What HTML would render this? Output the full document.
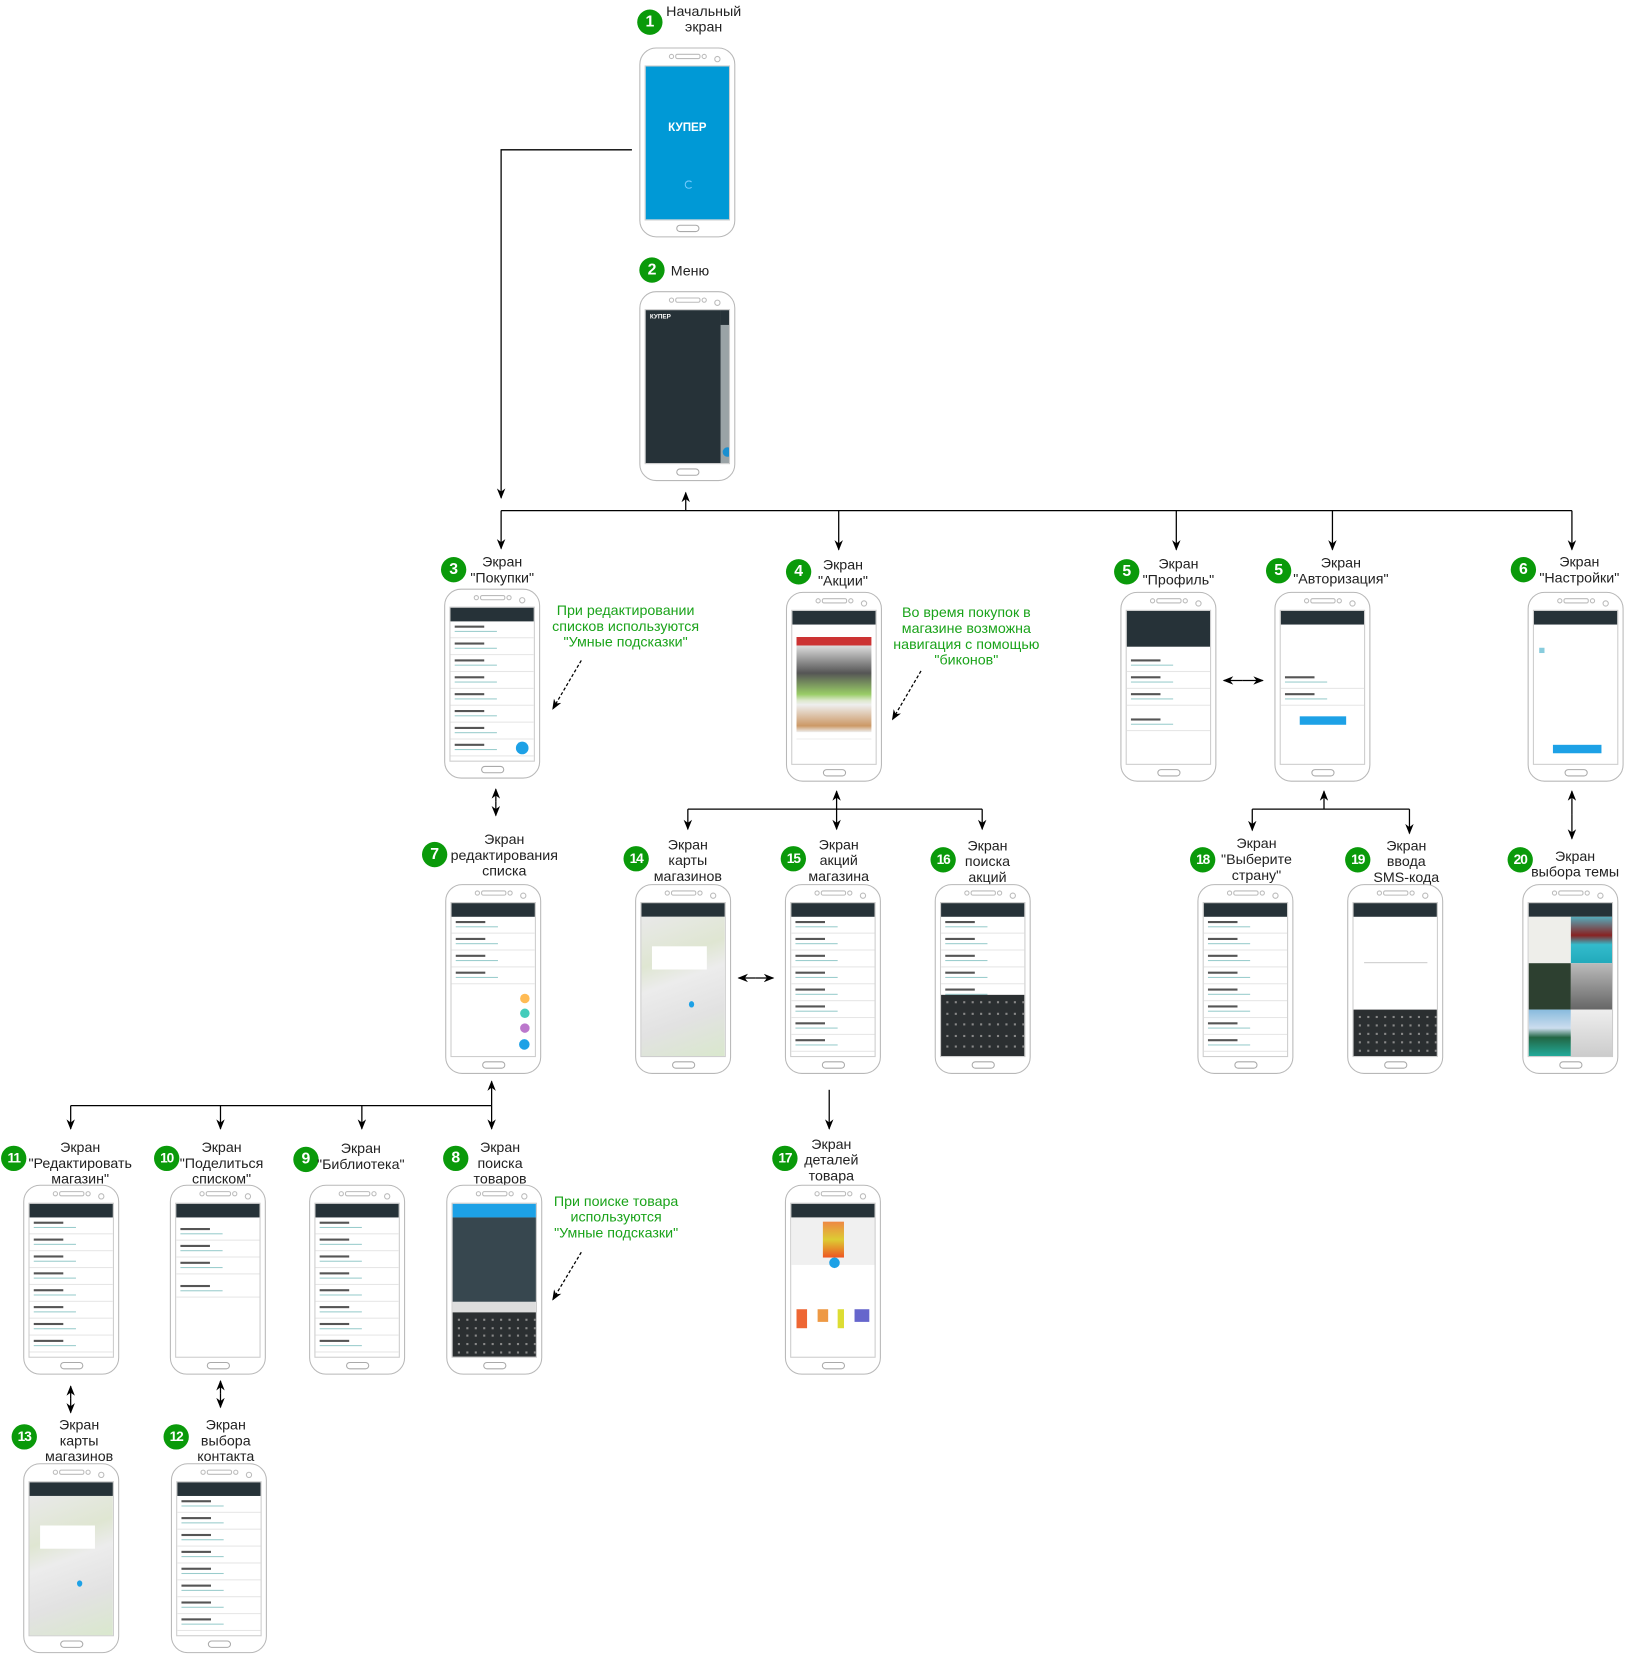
<!DOCTYPE html>
<html><head><meta charset="utf-8">
<style>
html,body{margin:0;padding:0;background:#fff;}
body{width:1631px;height:1654px;overflow:hidden;position:relative;}
#c{position:absolute;left:0;top:0;width:1546px;height:1568px;transform:scale(1.05498);transform-origin:0 0;font-family:"Liberation Sans","DejaVu Sans",sans-serif;}
.ph{position:absolute;width:89px;height:178px;border:1px solid #b8b8b8;border-radius:16px;background:#fff;box-sizing:content-box;}
.ph .sp{position:absolute;left:33px;top:5px;width:22px;height:3px;border:1px solid #bbb;border-radius:2px;}
.ph .d1{position:absolute;left:27px;top:5px;width:3px;height:3px;border:1px solid #bbb;border-radius:50%;}
.ph .d2{position:absolute;left:58px;top:5px;width:3px;height:3px;border:1px solid #bbb;border-radius:50%;}
.ph .d3{position:absolute;left:70px;top:7px;width:4px;height:4px;border:1px solid #bbb;border-radius:50%;}
.ph .hb{position:absolute;left:34px;top:167px;width:20px;height:5px;border:1px solid #aaa;border-radius:4px;}
.ph .sc{position:absolute;left:4px;top:16px;width:81px;height:147px;overflow:hidden;background:#fff;border:1px solid #ccc;box-sizing:border-box;}
.hd{height:13px;background:#263238;}
.row{height:15px;border-bottom:1px solid #e6e6e6;position:relative;}
.row:before{content:"";position:absolute;left:4px;top:4px;width:28px;height:2px;background:#555;}
.row:after{content:"";position:absolute;left:4px;top:9px;width:40px;height:1px;background:#9cc;}
.kb{position:absolute;left:0;bottom:0;width:100%;background:#2b2f31;}
.kb i{position:absolute;width:2px;height:2px;background:#888;}
.n{position:absolute;width:24px;height:24px;border-radius:50%;background:#0a9a0a;color:#fff;font-weight:bold;font-size:15px;line-height:24px;text-align:center;}
.n.s{font-size:13px;letter-spacing:-1px;}
.t{position:absolute;font-size:13.5px;line-height:15px;text-align:center;color:#222;white-space:nowrap;transform:translateX(-50%);}
.g{position:absolute;font-size:13.5px;line-height:15px;text-align:center;color:#1aa31a;white-space:nowrap;transform:translateX(-50%);}
svg{position:absolute;left:0;top:0;}
</style></head><body><div id="c">
<svg width="1546" height="1568" viewBox="0 0 1546 1568">
<defs><marker id="a" markerWidth="10" markerHeight="10" refX="9" refY="5" orient="auto" markerUnits="userSpaceOnUse"><path d="M0,1 L10,5 L0,9 L3,5 z" fill="#000"/></marker></defs>
<g stroke="#000" stroke-width="1.2" fill="none">
<path d="M599,142 H475 V472" marker-end="url(#a)"/>
<path d="M475,484 H1490"/>
<path d="M650,484 V467" marker-end="url(#a)"/>
<path d="M475,484 V520" marker-end="url(#a)"/>
<path d="M795,484 V521" marker-end="url(#a)"/>
<path d="M1115,484 V521" marker-end="url(#a)"/>
<path d="M1263,484 V521" marker-end="url(#a)"/>
<path d="M1490,484 V521" marker-end="url(#a)"/>
<path d="M470,760 V748" marker-end="url(#a)"/><path d="M470,760 V773" marker-end="url(#a)"/>
<path d="M652,767 H931"/>
<path d="M652,767 V786" marker-end="url(#a)"/><path d="M931,767 V786" marker-end="url(#a)"/>
<path d="M793,767 V750" marker-end="url(#a)"/><path d="M793,767 V786" marker-end="url(#a)"/>
<path d="M1178,645 H1160" marker-end="url(#a)"/><path d="M1178,645 H1197" marker-end="url(#a)"/>
<path d="M1187,767 H1336"/>
<path d="M1255,767 V750" marker-end="url(#a)"/>
<path d="M1187,767 V787" marker-end="url(#a)"/><path d="M1336,767 V790" marker-end="url(#a)"/>
<path d="M1490,772 V750" marker-end="url(#a)"/><path d="M1490,772 V795" marker-end="url(#a)"/>
<path d="M716,927 H700" marker-end="url(#a)"/><path d="M716,927 H733" marker-end="url(#a)"/>
<path d="M67,1048 H466"/>
<path d="M466,1048 V1025" marker-end="url(#a)"/>
<path d="M67,1048 V1070" marker-end="url(#a)"/><path d="M209,1048 V1070" marker-end="url(#a)"/>
<path d="M343,1048 V1070" marker-end="url(#a)"/><path d="M466,1048 V1070" marker-end="url(#a)"/>
<path d="M786,1033 V1070" marker-end="url(#a)"/>
<path d="M67,1326 V1314" marker-end="url(#a)"/><path d="M67,1326 V1339" marker-end="url(#a)"/>
<path d="M209,1321 V1309" marker-end="url(#a)"/><path d="M209,1321 V1334" marker-end="url(#a)"/>
<path d="M551,626 L524,672" stroke-dasharray="3,2" marker-end="url(#a)"/>
<path d="M873,636 L846,682" stroke-dasharray="3,2" marker-end="url(#a)"/>
<path d="M551,1187 L524,1232" stroke-dasharray="3,2" marker-end="url(#a)"/>
</g></svg>

<div class="n" style="left:604px;top:9px">1</div><div class="t" style="left:667px;top:3px">Начальный<br>экран</div>
<div class="n" style="left:606px;top:244px">2</div><div class="t" style="left:654px;top:249px">Меню</div>
<div class="n" style="left:418px;top:528px">3</div><div class="t" style="left:476px;top:525px">Экран<br>"Покупки"</div>
<div class="n" style="left:745px;top:530px">4</div><div class="t" style="left:799px;top:528px">Экран<br>"Акции"</div>
<div class="n" style="left:1056px;top:530px">5</div><div class="t" style="left:1117px;top:527px">Экран<br>"Профиль"</div>
<div class="n" style="left:1200px;top:529px">5</div><div class="t" style="left:1271px;top:526px">Экран<br>"Авторизация"</div>
<div class="n" style="left:1432px;top:528px">6</div><div class="t" style="left:1497px;top:525px">Экран<br>"Настройки"</div>
<div class="n" style="left:400px;top:798px">7</div><div class="t" style="left:478px;top:788px">Экран<br>редактирования<br>списка</div>
<div class="n s" style="left:591px;top:802px">14</div><div class="t" style="left:652px;top:793px">Экран<br>карты<br>магазинов</div>
<div class="n s" style="left:740px;top:802px">15</div><div class="t" style="left:795px;top:793px">Экран<br>акций<br>магазина</div>
<div class="n s" style="left:882px;top:803px">16</div><div class="t" style="left:936px;top:794px">Экран<br>поиска<br>акций</div>
<div class="n s" style="left:1128px;top:803px">18</div><div class="t" style="left:1191px;top:792px">Экран<br>"Выберите<br>страну"</div>
<div class="n s" style="left:1275px;top:803px">19</div><div class="t" style="left:1333px;top:794px">Экран<br>ввода<br>SMS-кода</div>
<div class="n s" style="left:1429px;top:803px">20</div><div class="t" style="left:1493px;top:804px">Экран<br>выбора темы</div>
<div class="n s" style="left:1px;top:1086px">11</div><div class="t" style="left:76px;top:1080px">Экран<br>"Редактировать<br>магазин"</div>
<div class="n s" style="left:146px;top:1086px">10</div><div class="t" style="left:210px;top:1080px">Экран<br>"Поделиться<br>списком"</div>
<div class="n" style="left:278px;top:1087px">9</div><div class="t" style="left:342px;top:1081px">Экран<br>"Библиотека"</div>
<div class="n" style="left:420px;top:1086px">8</div><div class="t" style="left:474px;top:1080px">Экран<br>поиска<br>товаров</div>
<div class="n s" style="left:732px;top:1086px">17</div><div class="t" style="left:788px;top:1077px">Экран<br>деталей<br>товара</div>
<div class="n s" style="left:11px;top:1350px">13</div><div class="t" style="left:75px;top:1343px">Экран<br>карты<br>магазинов</div>
<div class="n s" style="left:155px;top:1350px">12</div><div class="t" style="left:214px;top:1343px">Экран<br>выбора<br>контакта</div>

<div class="g" style="left:593px;top:571px">При редактировании<br>списков используются<br>"Умные подсказки"</div>
<div class="g" style="left:916px;top:573px">Во время покупок в<br>магазине возможна<br>навигация с помощью<br>"биконов"</div>
<div class="g" style="left:584px;top:1131px">При поиске товара<br>используются<br>"Умные подсказки"</div>

<div id="phones"></div>
</div>
<script>
var P=[[606,45,'blue'],[606,276,'menu'],[421,558,'list'],[745,561,'promo'],[1062,561,'prof'],[1208,561,'auth'],[1448,561,'sett'],
[422,838,'edit'],[602,838,'map'],[744,838,'list2'],[886,838,'kbl'],[1135,838,'list2'],[1277,838,'sms'],[1443,838,'photo'],
[22,1123,'list2'],[161,1123,'share'],[293,1123,'list2'],[423,1123,'search'],[744,1123,'detail'],[22,1387,'map'],[162,1387,'list2']];
function kb(h){var s='<div class="kb" style="height:'+h+'px">';for(var r=0;r<5;r++)for(var c=0;c<10;c++)s+='<i style="left:'+(5+c*8)+'px;top:'+(6+r*h/5.5)+'px"></i>';return s+'</div>';}
function rows(n){var s='';for(var i=0;i<n;i++)s+='<div class="row"></div>';return s;}
function scr(t){
switch(t){
case 'blue':return '<div style="background:#0099d6;height:100%;position:relative"><div style="position:absolute;top:52px;width:100%;text-align:center;color:#fff;font-weight:bold;font-size:11px">КУПЕР</div><div style="position:absolute;left:37px;top:108px;width:6px;height:6px;border:1px solid #7cf;border-radius:50%;border-right-color:transparent"></div></div>';
case 'menu':return '<div style="background:#9aa3a6;height:100%;position:relative"><div style="position:absolute;left:0;top:0;width:71px;height:100%;background:#263238"></div><div style="position:absolute;left:4px;top:4px;color:#fff;font-size:6px;font-weight:bold">КУПЕР</div><div style="position:absolute;left:71px;top:0;width:10px;height:14px;background:#263238"></div><div style="position:absolute;left:73px;top:130px;width:9px;height:9px;border-radius:50%;background:#1a8fd0"></div></div>';
case 'list':return '<div class="hd"></div>'+rows(9)+'<div style="position:absolute;right:5px;bottom:6px;width:12px;height:12px;border-radius:50%;background:#1da1e6"></div>';
case 'list2':return '<div class="hd"></div>'+rows(9);
case 'promo':return '<div class="hd"></div><div style="margin:6px 4px;height:96px;background:linear-gradient(#fff 0,#fff 6px,#c33 6px,#c33 14px,#ddd 14px,#555 40px,#9c6 60px,#dde8cc 66px,#eee 70px,#c96 90px,#eee 96px)"></div><div style="margin:4px;height:16px;border-top:1px solid #eee"></div>';
case 'prof':return '<div style="background:#263238;height:34px"></div>'+'<div style="height:8px"></div>'+rows(3)+'<div style="height:8px"></div>'+rows(1);
case 'auth':return '<div class="hd"></div><div style="height:45px"></div>'+rows(2)+'<div style="margin:10px auto;width:44px;height:8px;background:#1da1e6"></div>';
case 'sett':return '<div class="hd"></div><div style="margin:22px 5px 0;width:5px;height:5px;background:#8cd"></div><div style="position:absolute;left:18px;bottom:10px;width:46px;height:8px;background:#1da1e6"></div>';
case 'edit':return '<div class="hd"></div>'+rows(4)+'<div style="position:absolute;right:5px;bottom:6px;width:10px;height:10px;border-radius:50%;background:#1da1e6"></div><div style="position:absolute;right:5px;bottom:22px;width:9px;height:9px;border-radius:50%;background:#b7c"></div><div style="position:absolute;right:5px;bottom:36px;width:9px;height:9px;border-radius:50%;background:#4cb"></div><div style="position:absolute;right:5px;bottom:50px;width:9px;height:9px;border-radius:50%;background:#fb5"></div>';
case 'map':return '<div class="hd"></div><div style="height:134px;background:linear-gradient(160deg,#e9e9e9 0,#dfe6d2 30%,#ececec 45%,#e2e2e2 70%,#d9e8cc 100%);position:relative"><div style="position:absolute;left:10px;top:28px;width:52px;height:22px;background:#fff"></div><div style="position:absolute;left:45px;top:80px;width:5px;height:6px;background:#1da1e6;border-radius:50%"></div></div>';
case 'kbl':return '<div class="hd"></div>'+rows(5)+kb(58);
case 'sms':return '<div class="hd"></div>'+kb(44)+'<div style="position:absolute;left:10px;top:56px;width:60px;border-top:1px solid #ccc"></div>';
case 'photo':return '<div class="hd"></div><div style="display:grid;grid-template-columns:1fr 1fr;grid-template-rows:44px 44px 44px"><div style="background:#eeeeea"></div><div style="background:linear-gradient(#5ab,#822 40%,#3bc 60%,#2ab)"></div><div style="background:#2d4030"></div><div style="background:linear-gradient(#bbb,#666)"></div><div style="background:linear-gradient(#8bd,#cde 40%,#264 60%,#2a9)"></div><div style="background:linear-gradient(#eee,#ccc)"></div></div>';
case 'share':return '<div class="hd"></div><div style="height:6px"></div>'+rows(3)+'<div style="height:6px"></div>'+rows(1);
case 'search':return '<div style="height:13px;background:#1da1e6"></div><div style="height:80px;background:#37474f"></div><div style="height:12px;background:#ddd"></div>'+kb(42);
case 'detail':return '<div class="hd"></div><div style="height:45px;background:#f0f0f0;position:relative"><div style="position:absolute;left:30px;top:4px;width:20px;height:34px;background:linear-gradient(#e84,#dc3,#e52)"></div><div style="position:absolute;left:36px;top:38px;width:10px;height:10px;border-radius:50%;background:#1da1e6"></div></div><div style="height:42px"></div><div style="display:flex;justify-content:space-around"><span style="width:10px;height:18px;background:#e63"></span><span style="width:10px;height:12px;background:#e94"></span><span style="width:6px;height:18px;background:#dd3"></span><span style="width:14px;height:12px;background:#66c"></span></div>';
}}
var h='';P.forEach(function(p){h+='<div class="ph" style="left:'+p[0]+'px;top:'+p[1]+'px"><div class="d1"></div><div class="sp"></div><div class="d2"></div><div class="d3"></div><div class="sc">'+scr(p[2])+'</div><div class="hb"></div></div>';});
document.getElementById('phones').innerHTML=h;
</script>
</body></html>
